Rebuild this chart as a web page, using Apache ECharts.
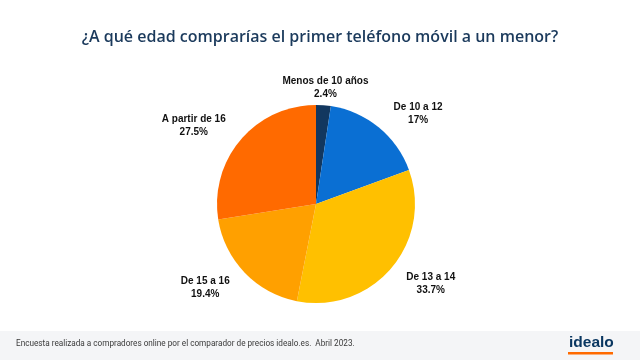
<!DOCTYPE html>
<html><head><meta charset="utf-8">
<script src="https://cdn.jsdelivr.net/npm/echarts@6/dist/echarts.min.js"></script>
<style>html,body{margin:0;padding:0;background:#fff}#c{width:640px;height:360px}</style>
</head><body><div id="c"></div>
<script>
const titleText = '¿A qué edad comprarías el primer teléfono móvil a un menor?';
const categories = ['Menos de 10 años', 'De 10 a 12', 'De 13 a 14', 'De 15 a 16', 'A partir de 16'];
const values = [2.4, 17, 33.7, 19.4, 27.5];
const valueLabels = ['2.4%', '17%', '33.7%', '19.4%', '27.5%'];
const colors = ['#12375f', '#0a6fd3', '#ffc000', '#ffa000', '#ff6a00'];
const footerText = 'Encuesta realizada a compradores online por el comparador de precios idealo.es.  Abril 2023.';

const CX = 316, CY = 204, R = 99;
const total = values.reduce((a, b) => a + b, 0);
const mids = [];
let acc = 0;
values.forEach(v => { mids.push((acc + v / 2) / total * 2 * Math.PI); acc += v; });

const chart = echarts.init(document.getElementById('c'), null, {renderer: 'canvas'});
chart.setOption({
  animation: false,
  backgroundColor: '#ffffff',
  title: {
    text: titleText, left: 'center', top: 24,
    textStyle: {fontFamily: 'Open Sans', fontSize: 16, fontWeight: 600, color: '#1b3a5c'}
  },
  graphic: [
    {type: 'rect', left: 0, top: 331, shape: {width: 640, height: 29}, style: {fill: '#f4f5f7'}, silent: true},
    {type: 'text', left: 16, top: 340, style: {text: footerText, font: '8.2px Roboto', fill: '#3a3a3a'}},
    {type: 'text', left: 569, top: 335, style: {text: 'idealo', font: '900 15.5px "Liberation Sans"', fill: '#0a3761'}},
    {type: 'rect', left: 568, top: 352, shape: {width: 45, height: 2.5}, style: {fill: '#ff6a00'}}
  ],
  series: [{
    type: 'pie',
    center: [CX, CY],
    radius: [0, R],
    startAngle: 90,
    clockwise: true,
    data: categories.map((c, i) => ({name: c, value: values[i], itemStyle: {color: colors[i]}})),
    itemStyle: {borderWidth: 0},
    label: {
      show: true, position: 'outside',
      formatter: p => p.name + '\n' + valueLabels[p.dataIndex],
      fontFamily: 'Liberation Sans', fontWeight: 'bold', fontSize: 10, color: '#111',
      lineHeight: 13, align: 'center'
    },
    labelLine: {show: false},
    labelLayout: function (p) {
      const a = mids[p.dataIndex];
      const s = Math.sin(a), c = Math.cos(a);
      const ex = CX + R * s, ey = CY - R * c;
      const w = p.labelRect.width;
      let x, align = 'center';
      if (Math.abs(s) < 0.2) { x = ex + 2; }
      else { x = ex + Math.sign(s) * (15 + w / 2); }
      const vAlign = c > 0 ? 'bottom' : 'top';
      const y = c > 0 ? (Math.abs(s) < 0.2 ? ey - 5 : ey - 1) : ey + 2;
      return {x: x, y: y, align: align, verticalAlign: vAlign};
    }
  }]
});
</script></body></html>
